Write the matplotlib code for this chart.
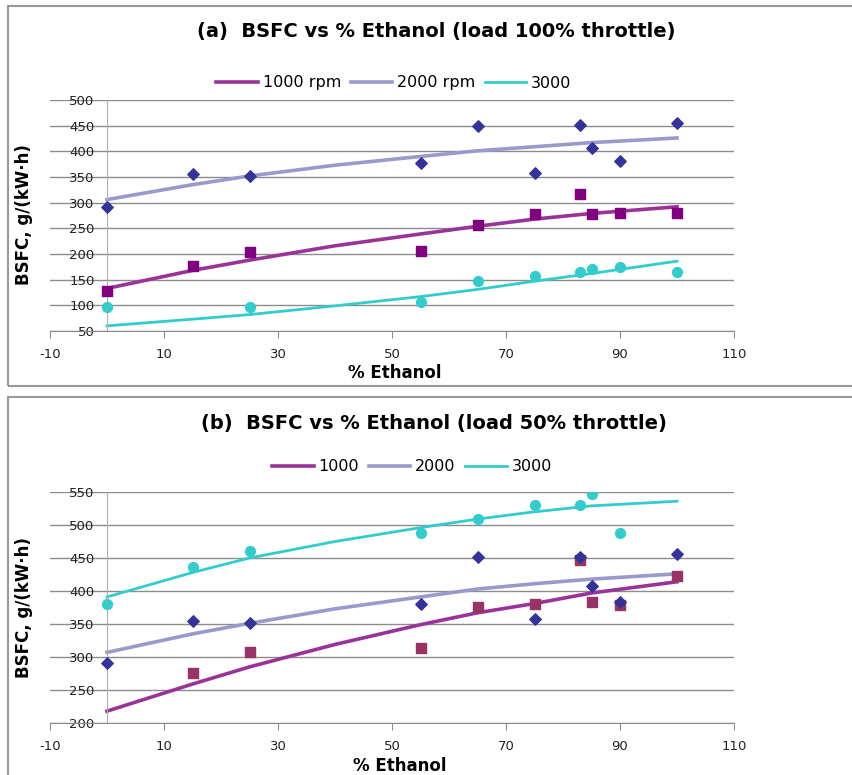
import matplotlib
matplotlib.use('Agg')
import matplotlib.pyplot as plt
from matplotlib.lines import Line2D
from matplotlib.patches import Rectangle

plt.rcParams['font.family'] = ['DejaVu Sans']
plt.rcParams['axes.unicode_minus'] = False

# Data
ethanol = [0, 15, 25, 55, 65, 75, 83, 85, 90, 100]
ethanol_3000a = [0, 25, 55, 65, 75, 83, 85, 90, 100]
ethanol_1000b = [15, 25, 55, 65, 75, 83, 85, 90, 100]
ethanol_3000b = [0, 15, 25, 55, 65, 75, 83, 85, 90]

# (a) load 100% throttle
a_1000 = [127, 177, 203, 206, 257, 278, 317, 278, 280, 280]
a_2000 = [291, 355, 352, 378, 450, 357, 451, 407, 382, 456]
a_3000 = [97, 96, 106, 147, 158, 165, 171, 174, 164]

# (b) load 50% throttle
b_1000 = [276, 308, 313, 376, 380, 447, 384, 379, 423]
b_2000 = [291, 355, 352, 380, 451, 357, 452, 408, 383, 456]
b_3000 = [381, 436, 461, 488, 509, 530, 530, 547, 488]

# trendlines
trend_x = [0, 15, 25, 40, 55, 65, 75, 85, 100]
a_trend_1000 = [133, 168, 188, 216, 239, 254, 268, 279, 292]
a_trend_2000 = [306, 335, 352, 373, 390, 401, 409, 417, 426]
a_trend_3000 = [60, 73, 82, 99, 117, 131, 147, 162, 186]
b_trend_1000 = [218, 259, 285, 319, 349, 367, 381, 397, 414]
b_trend_2000 = [307, 335, 351, 373, 391, 403, 411, 418, 426]
b_trend_3000 = [391, 428, 450, 475, 496, 509, 520, 529, 536]

c_1000 = '#993399'
c_2000 = '#9999cc'
c_3000 = '#33cccc'
c_diam = '#333399'
grid_c = '#8c8c8c'

fig = plt.figure(figsize=(8.52, 7.75), dpi=100)
W, H = 852.0, 775.0


def fx(px):
    return px / W


def fy(py):
    return 1 - py / H


def setup_axes(ax, ylo, yhi):
    ax.set_xlim(-10, 110)
    ax.set_ylim(ylo, yhi)
    ax.set_xticks(range(-10, 111, 20))
    ax.set_yticks(range(ylo, yhi + 1, 50))
    ax.grid(axis='y', color=grid_c, lw=1)
    ax.set_axisbelow(True)
    for s in ['top', 'right']:
        ax.spines[s].set_visible(False)
    ax.spines['left'].set_position(('data', 0))
    ax.spines['left'].set_color('#b0b0b0')
    ax.spines['bottom'].set_color(grid_c)
    ax.tick_params(axis='y', length=0, pad=9, labelsize=9.5, colors='#222222')
    ax.tick_params(axis='x', length=5, pad=7, labelsize=9.5, colors='#222222',
                   color=grid_c)


def legend(handles, labels, cx, cy):
    fig.legend(handles, labels, loc='center', bbox_to_anchor=(fx(cx), fy(cy)),
               ncol=3, frameon=False, fontsize=11.5, handlelength=2.6,
               handletextpad=0.3, columnspacing=0.6)


# ---------- panel (a) ----------
ax1 = fig.add_axes([fx(50), fy(331), fx(734 - 50), (331 - 100) / H])
setup_axes(ax1, 50, 500)
ax1.plot(trend_x, a_trend_1000, color=c_1000, lw=2.6, zorder=2)
ax1.plot(trend_x, a_trend_2000, color=c_2000, lw=2.6, zorder=2)
ax1.plot(trend_x, a_trend_3000, color=c_3000, lw=2, zorder=2)
ax1.scatter(ethanol, a_2000, marker='D', s=34, color=c_diam, zorder=3)
ax1.scatter(ethanol, a_1000, marker='s', s=48, color='#800080', zorder=3)
ax1.scatter(ethanol_3000a, a_3000, marker='o', s=50, color=c_3000, zorder=3)

h = [Line2D([], [], color=c_1000, lw=2.6), Line2D([], [], color=c_2000, lw=2.6),
     Line2D([], [], color=c_3000, lw=2)]
legend(h, ['1000 rpm', '2000 rpm', '3000'], 394, 83)

fig.text(fx(436), fy(31), '(a)  BSFC vs % Ethanol (load 100% throttle)',
         ha='center', va='center', fontsize=14, weight='bold')
fig.text(fx(395), fy(373), '% Ethanol', ha='center', va='center',
         fontsize=12, weight='bold')
fig.text(fx(24), fy(215), 'BSFC, g/(kW·h)', ha='center', va='center',
         rotation=90, fontsize=12, weight='bold')

# ---------- panel (b) ----------
ax2 = fig.add_axes([fx(50), fy(723), fx(734 - 50), (723 - 492) / H])
setup_axes(ax2, 200, 550)
ax2.plot(trend_x, b_trend_1000, color=c_1000, lw=2.6, zorder=2)
ax2.plot(trend_x, b_trend_2000, color=c_2000, lw=2.6, zorder=2)
ax2.plot(trend_x, b_trend_3000, color=c_3000, lw=2, zorder=2)
ax2.scatter(ethanol_1000b, b_1000, marker='s', s=45, color='#993366', zorder=3)
ax2.scatter(ethanol, b_2000, marker='D', s=34, color=c_diam, zorder=3)
ax2.scatter(ethanol_3000b, b_3000, marker='o', s=50, color=c_3000, zorder=3)

legend(h, ['1000', '2000', '3000'], 412, 467)

fig.text(fx(434), fy(423), '(b)  BSFC vs % Ethanol (load 50% throttle)',
         ha='center', va='center', fontsize=14, weight='bold')
fig.text(fx(400), fy(766), '% Ethanol', ha='center', va='center',
         fontsize=12, weight='bold')
fig.text(fx(24), fy(608), 'BSFC, g/(kW·h)', ha='center', va='center',
         rotation=90, fontsize=12, weight='bold')

# panel frames (right side / bottom cut off in the original)
fig.add_artist(Rectangle((fx(8), fy(386)), 1.0, (386 - 6) / H, fill=False,
                         edgecolor='#999999', lw=1.5, transform=fig.transFigure))
fig.add_artist(Rectangle((fx(8), -0.05), 1.0, fy(397) + 0.05, fill=False,
                         edgecolor='#999999', lw=1.5, transform=fig.transFigure))

fig.savefig('out.png', dpi=100)
